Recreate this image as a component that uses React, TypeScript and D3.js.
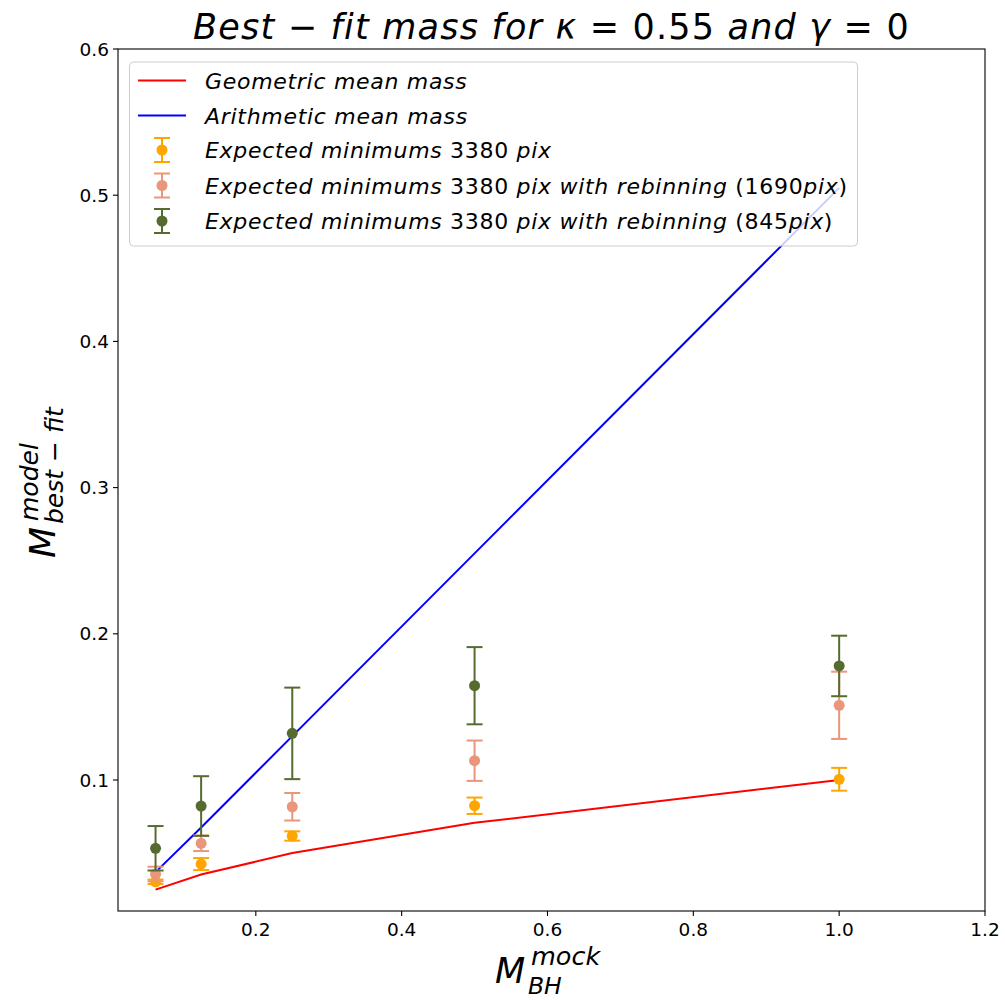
import React from "react";
import * as d3 from "d3";

// mock BH mass (x) for every series
const massMock = [0.0625, 0.125, 0.25, 0.5, 1.0];
const geometricMean = [0.025, 0.0354, 0.05, 0.0707, 0.1];
const arithmeticMean = [0.037, 0.0675, 0.13, 0.255, 0.505];
const min3380 = [0.0304, 0.0425, 0.0617, 0.0824, 0.1005];
const min3380Err = [0.0015, 0.0041, 0.0032, 0.0056, 0.0078];
const min1690 = [0.0357, 0.0567, 0.0817, 0.1132, 0.1511];
const min1690Err = [0.005, 0.0053, 0.0094, 0.0138, 0.023];
const min845 = [0.0533, 0.0822, 0.1319, 0.1645, 0.178];
const min845Err = [0.0152, 0.0204, 0.0313, 0.0264, 0.0207];
const xTicks = [0.2, 0.4, 0.6, 0.8, 1.0, 1.2];
const yTicks = [0.1, 0.2, 0.3, 0.4, 0.5, 0.6];

const FONT = "'DejaVu Sans', sans-serif";
const W = 1005, H = 1000;
const plot = { left: 118, right: 985, top: 49, bottom: 911 };

const lineSeries = [
  { label: "Geometric mean mass", values: geometricMean, color: "red" },
  { label: "Arithmetic mean mass", values: arithmeticMean, color: "blue" },
];
const errSeries = [
  { label: "Expected minimums 3380 pix", values: min3380, err: min3380Err, color: "orange" },
  { label: "Expected minimums 3380 pix with rebinning (1690pix)", values: min1690, err: min1690Err, color: "darksalmon" },
  { label: "Expected minimums 3380 pix with rebinning (845pix)", values: min845, err: min845Err, color: "darkolivegreen" },
];

// mathtext style: letters italic, digits/symbols upright
const mathRuns = (s: string) =>
  (s.match(/[A-Za-zκγ]+|[^A-Za-zκγ]+/g) || []).map((part, i) => (
    <tspan key={i} fontStyle={/[A-Za-zκγ]/.test(part) ? "italic" : "normal"}>{part}</tspan>
  ));

const App = () => {
  const x = d3.scaleLinear().domain([0.011, 1.2]).range([plot.left, plot.right]);
  const y = d3.scaleLinear().domain([0.0104, 0.6]).range([plot.bottom, plot.top]);
  const fmt = d3.format(".1f");
  const line = d3.line<number>().x((_, i) => x(massMock[i])).y(d => y(d));

  return (
    <svg width={W} height={H} style={{ position: "absolute", left: 0, top: 0, background: "white" }} fontFamily={FONT}>
      <rect width={W} height={H} fill="white" />
      <text x={(plot.left + plot.right) / 2} y={39} fontSize={35} letterSpacing={1.2} textAnchor="middle">
        {mathRuns("Best − fit mass for κ = 0.55 and γ = 0")}
      </text>

      {lineSeries.map(s => (
        <path key={s.label} d={line(s.values) || ""} fill="none" stroke={s.color} strokeWidth={2} />
      ))}

      {errSeries.map(s => (
        <g key={s.label} stroke={s.color} fill={s.color}>
          {massMock.map((m, i) => {
            const cx = x(m), lo = y(s.values[i] - s.err[i]), hi = y(s.values[i] + s.err[i]);
            return (
              <g key={i}>
                <line x1={cx} x2={cx} y1={lo} y2={hi} strokeWidth={2} />
                <line x1={cx - 8} x2={cx + 8} y1={lo} y2={lo} strokeWidth={2} />
                <line x1={cx - 8} x2={cx + 8} y1={hi} y2={hi} strokeWidth={2} />
                <circle cx={cx} cy={y(s.values[i])} r={5.5} stroke="none" />
              </g>
            );
          })}
        </g>
      ))}

      {/* axes frame */}
      <rect x={plot.left} y={plot.top} width={plot.right - plot.left} height={plot.bottom - plot.top}
        fill="none" stroke="black" strokeWidth={1.1} />
      {xTicks.map(t => (
        <g key={t}>
          <line x1={x(t)} x2={x(t)} y1={plot.bottom} y2={plot.bottom + 5} stroke="black" strokeWidth={1.1} />
          <text x={x(t)} y={plot.bottom + 25} fontSize={18.5} textAnchor="middle">{fmt(t)}</text>
        </g>
      ))}
      {yTicks.map(t => (
        <g key={t}>
          <line x1={plot.left - 5} x2={plot.left} y1={y(t)} y2={y(t)} stroke="black" strokeWidth={1.1} />
          <text x={plot.left - 9} y={y(t) + 6.5} fontSize={18.5} textAnchor="end">{fmt(t)}</text>
        </g>
      ))}

      {/* x label */}
      <g fontStyle="italic">
        <text x={495} y={983} fontSize={35}>M</text>
        <text x={531} y={965} fontSize={25.5}>mock</text>
        <text x={528} y={994} fontSize={23.5}>BH</text>
      </g>
      {/* y label */}
      <g transform="translate(55,558) rotate(-90)" fontStyle="italic">
        <text x={0} y={0} fontSize={36}>M</text>
        <text x={37} y={-17} fontSize={25}>model</text>
        <text x={34} y={8} fontSize={25}>{mathRuns("best − fit")}</text>
      </g>

      {/* legend */}
      <g>
        <rect x={129.5} y={62} width={728} height={184} rx={4} fill="white" fillOpacity={0.8} stroke="#cccccc" strokeWidth={1} />
        {lineSeries.map((s, i) => {
          const ly = 80.5 + i * 35;
          return (
            <g key={s.label}>
              <line x1={138} x2={186} y1={ly} y2={ly} stroke={s.color} strokeWidth={2} />
              <text x={205} y={ly + 8} fontSize={22} letterSpacing={0.7}>{mathRuns(s.label)}</text>
            </g>
          );
        })}
        {errSeries.map((s, i) => {
          const ly = 150 + i * 35.5;
          return (
            <g key={s.label}>
              <g stroke={s.color} strokeWidth={2}>
                <line x1={162} x2={162} y1={ly - 12} y2={ly + 12} />
                <line x1={154} x2={170} y1={ly - 12} y2={ly - 12} />
                <line x1={154} x2={170} y1={ly + 12} y2={ly + 12} />
              </g>
              <circle cx={162} cy={ly} r={5.5} fill={s.color} />
              <text x={205} y={ly + 8} fontSize={22} letterSpacing={0.7}>{mathRuns(s.label)}</text>
            </g>
          );
        })}
      </g>
    </svg>
  );
};

export default App;
